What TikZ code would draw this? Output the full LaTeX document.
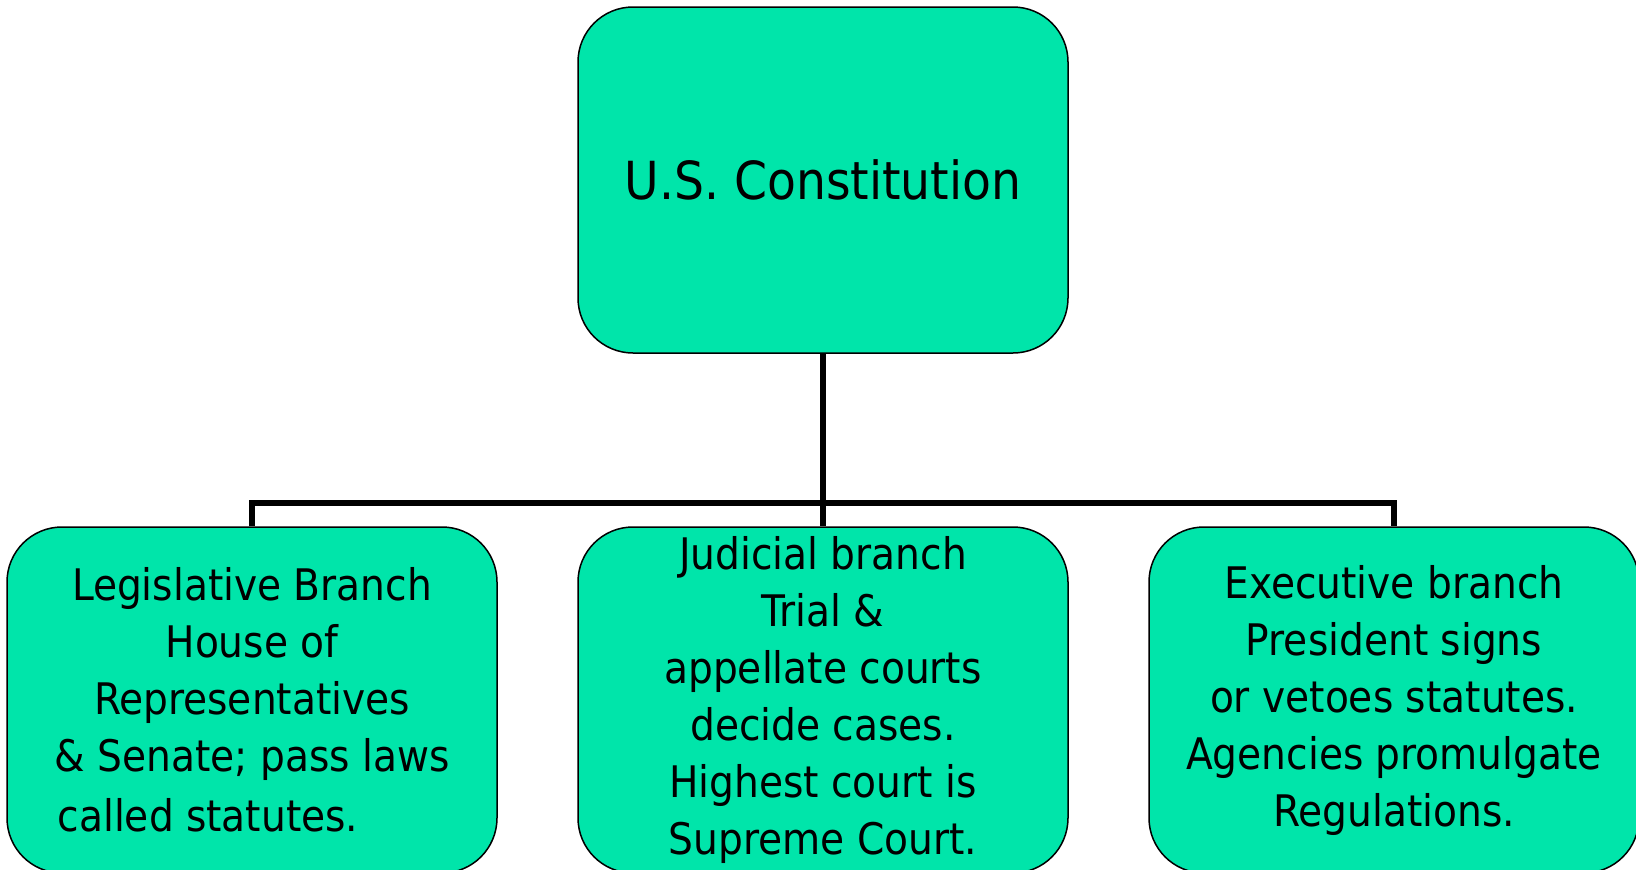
\documentclass[tikz,border=0pt]{standalone}
\usepackage{fontspec}
\setmainfont{DejaVu Sans Condensed}
\definecolor{boxgreen}{HTML}{00E5AA}
\begin{document}
\begin{tikzpicture}[x=1pt,y=-1pt,
  box/.style={draw=black, line width=1.5pt, fill=boxgreen, rounded corners=55pt,
    minimum width=490pt, minimum height=346pt, inner sep=0pt, align=center},
  bigtext/.style={font=\fontsize{52.5}{60}\selectfont},
  smalltext/.style={font=\fontsize{43.5}{57}\selectfont},
  conn/.style={draw=black, line width=5.5pt}]
\useasboundingbox (0,0) rectangle (1636,870);
\node[box, bigtext] (top) at (823,180) {U.S. Constitution};
\node[box, smalltext] (leg) at (252,700) {Legislative Branch\\House of\\Representatives\\\& Senate; pass laws\\[3pt]called statutes.\hspace*{88pt}};
\node[box, smalltext] (jud) at (823,700) {Judicial branch\\Trial \&\\appellate courts\\decide cases.\\Highest court is\\Supreme Court.};
\node[box, smalltext] (exe) at (1394,700) {Executive branch\\President signs\\or vetoes statutes.\\Agencies promulgate\\Regulations.};
\coordinate (bus) at (823,503);
\draw[conn] (top.south) -- (bus);
\draw[conn] (leg.north) |- (bus) -| (exe.north);
\draw[conn] (bus) -- (jud.north);
\end{tikzpicture}
\end{document}
